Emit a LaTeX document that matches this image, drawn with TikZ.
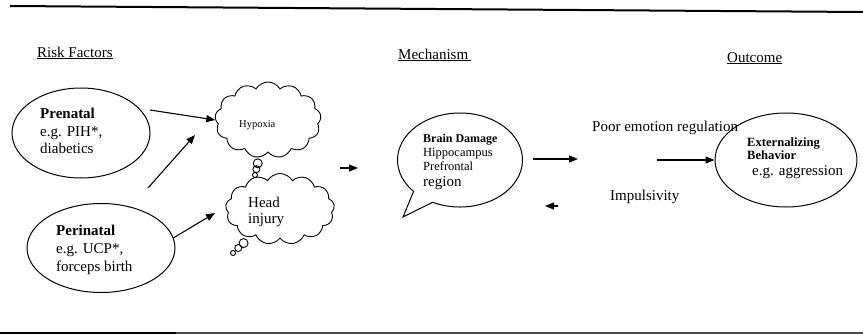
\documentclass[tikz,border=0pt]{standalone}
\usepackage{fontspec}
\setmainfont{Liberation Serif}
\usetikzlibrary{arrows.meta,shapes.geometric,shapes.symbols,shapes.callouts}
\begin{document}
\begin{tikzpicture}[x=1pt,y=-1pt,
  arr/.style={line width=1.1pt,-{Triangle[length=9pt,width=7pt]}},
  oval/.style={ellipse,draw,line width=1pt,inner sep=0pt},
  thought/.style={cloud callout,draw,line width=0.9pt,cloud puffs=13,cloud puff arc=120,
    cloud ignores aspect,inner sep=0pt,callout pointer segments=3,
    callout pointer start size=11pt,callout pointer end size=5pt},
  lbl/.style={anchor=base west,inner sep=0pt,font=\fontsize{15}{18}\selectfont},
  lblsmall/.style={anchor=base west,inner sep=0pt,font=\fontsize{12.5}{15}\selectfont},
  head/.style={anchor=base west,inner sep=0pt,font=\fontsize{15}{18}\selectfont}]
\useasboundingbox (0,0) rectangle (863,335);

% rules
\draw[line width=2pt] (10,6) -- (863,12);
\draw[line width=1.2pt,black!70] (0,333) -- (863,333);
\draw[line width=2.5pt] (0,333) -- (176,333);

% headers
\node[head] (hrisk) at (37,57) {\underline{Risk Factors}};
\node[head] (hmech) at (398,59) {\underline{Mechanism\,}};
\node[head] (hout) at (727,62) {\underline{Outcome}};

% risk factor ellipses
\node[oval,minimum width=138pt,minimum height=90pt] (pre) at (81,133) {};
\node[lbl] (pret1) at (40,118) {\bfseries Prenatal};
\node[lbl] (pret2) at (40,136) {e.g. PIH*,};
\node[lbl] (pret3) at (40,153) {diabetics};

\node[oval,minimum width=148pt,minimum height=89pt] (peri) at (101,248) {};
\node[lbl] (perit1) at (56,235) {\bfseries Perinatal};
\node[lbl] (perit2) at (56,253) {e.g. UCP*,};
\node[lbl] (perit3) at (56,271) {forceps birth};

% clouds
\node[thought,minimum width=106pt,minimum height=76pt,callout absolute pointer={(255,175)}] (hyp) at (268,120) {};
\node[anchor=base west,inner sep=0pt,font=\fontsize{10.5}{12}\selectfont] (hypt) at (239,127) {Hypoxia};

\node[thought,minimum width=109pt,minimum height=71pt,callout absolute pointer={(233,253)}] (headc) at (280,209) {};
\node[lbl] (headt1) at (248,207) {Head};
\node[lbl] (headt2) at (248,223) {injury};

% brain damage speech bubble
\node[ellipse callout,draw,line width=1pt,inner sep=0pt,minimum width=125pt,minimum height=94pt,
  callout pointer arc=22,callout absolute pointer={(403,217)}] (brain) at (460,160) {};
\node[anchor=base west,inner sep=0pt,font=\fontsize{12}{14}\selectfont\bfseries] (bt1) at (423,142) {Brain Damage};
\node[lblsmall] (bt2) at (423,156) {Hippocampus};
\node[lblsmall] (bt3) at (423,170) {Prefrontal};
\node[lbl] (bt4) at (423,186) {region};

% mediators
\node[lbl] (poor) at (592,131) {Poor emotion regulation};
\node[lbl] (imp) at (610,200) {Impulsivity};

% outcome
\node[oval,minimum width=142pt,minimum height=94pt] (out) at (786,160) {};
\node[anchor=base west,inner sep=0pt,font=\fontsize{12.6}{15}\selectfont\bfseries] (ot1) at (747,146) {Externalizing};
\node[anchor=base west,inner sep=0pt,font=\fontsize{12.6}{15}\selectfont\bfseries] (ot2) at (747,159) {Behavior};
\node[lbl] (ot3) at (752,175) {e.g. aggression};

% connectors
\coordinate (a1s) at (150,110);
\coordinate (a2s) at (148,188);
\coordinate (a2e) at (195,135);
\coordinate (a3e) at (215,213);
\coordinate (a4s) at (340,168);
\coordinate (a4e) at (358,168);
\coordinate (a5s) at (533,159);
\coordinate (a5e) at (578,159);
\coordinate (a6s) at (558,206);
\coordinate (a6e) at (545,206);
\coordinate (a7s) at (657,160);

\draw[arr] (a1s) -- (hyp.west);
\draw[arr] (a2s) -- (a2e);
\draw[arr] (peri.8) -- (a3e);
\draw[arr] (a4s) -- (a4e);
\draw[arr] (a5s) -- (a5e);
\draw[arr] (a6s) -- (a6e);
\draw[arr] (a7s) -- (out.west);
\end{tikzpicture}
\end{document}
